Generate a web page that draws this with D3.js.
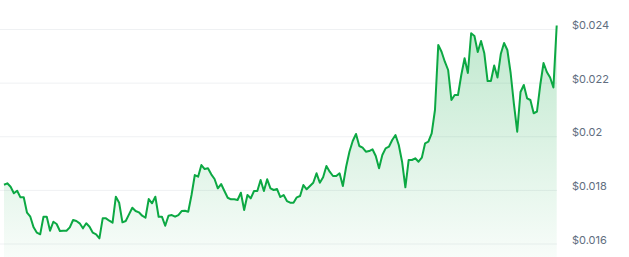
<!DOCTYPE html>
<html>
<head>
<meta charset="utf-8">
<script src="https://cdn.jsdelivr.net/npm/d3@7"></script>
<style>
  html, body { margin: 0; padding: 0; background: #fff; }
  svg { display: block; }
</style>
</head>
<body>
<div id="chart"></div>
<script>
// price series, one value per step (USD)
const prices = [
  0.018192, 0.018245, 0.018118, 0.017872, 0.017969, 0.017722, 0.017722, 0.017148, 0.016999, 0.016603,
  0.016402, 0.016342, 0.016999, 0.016999, 0.016477, 0.016812, 0.016726, 0.016465, 0.016477, 0.016477,
  0.016603, 0.016876, 0.016838, 0.016753, 0.016566, 0.016753, 0.016626, 0.016402, 0.016342, 0.016193,
  0.016939, 0.016939, 0.016850, 0.016775, 0.017745, 0.017521, 0.016790, 0.016838, 0.017088, 0.017334,
  0.017211, 0.017163, 0.017036, 0.016961, 0.017659, 0.017499, 0.017745, 0.016999, 0.016999, 0.016663,
  0.017036, 0.017062, 0.016999, 0.017062, 0.017211, 0.017223, 0.017185, 0.017808, 0.018554, 0.018491,
  0.018927, 0.018778, 0.018804, 0.018580, 0.018405, 0.018058, 0.018218, 0.017957, 0.017707, 0.017648,
  0.017648, 0.017622, 0.017894, 0.017249, 0.017808, 0.017685, 0.017957, 0.017957, 0.018368, 0.017957,
  0.018394, 0.018058, 0.017995, 0.018032, 0.017734, 0.017808, 0.017584, 0.017521, 0.017521, 0.017722,
  0.017771, 0.018181, 0.018021, 0.018144, 0.018267, 0.018618, 0.018267, 0.018468, 0.018890, 0.018677,
  0.018517, 0.018517, 0.018618, 0.018144, 0.018864, 0.019423, 0.019822, 0.020083, 0.019636, 0.019572,
  0.019423, 0.019449, 0.019513, 0.019263, 0.018804, 0.019300, 0.019550, 0.019610, 0.019860, 0.020046,
  0.019673, 0.019050, 0.018095, 0.019114, 0.019114, 0.019177, 0.019050, 0.019199, 0.019737, 0.019796,
  0.020110, 0.020979, 0.023403, 0.023153, 0.022780, 0.022471, 0.021352, 0.021538, 0.021538, 0.022284,
  0.022907, 0.022359, 0.023840, 0.023739, 0.023142, 0.023552, 0.023094, 0.022060, 0.022060, 0.022639,
  0.022191, 0.023067, 0.023478, 0.023217, 0.022359, 0.021202, 0.020169, 0.021650, 0.021911, 0.021415,
  0.021352, 0.020856, 0.020923, 0.021911, 0.022732, 0.022396, 0.022191, 0.021818, 0.024131
];
const yTicks = [0.016, 0.018, 0.02, 0.022, 0.024];
const tickLabels = ["$0.016", "$0.018", "$0.02", "$0.022", "$0.024"];

const width = 629;
const height = 257;
const lineColor = "#0ca843";

const x = d3.scaleLinear()
  .domain([0, prices.length - 1])
  .range([4, 556.7]);
const y = d3.scaleLinear()
  .domain([0.016, 0.024])
  .range([243.5, 29]);

const svg = d3.select("#chart").append("svg")
  .attr("width", width)
  .attr("height", height);

const defs = svg.append("defs");
const grad = defs.append("linearGradient")
  .attr("id", "fillGrad")
  .attr("gradientUnits", "userSpaceOnUse")
  .attr("x1", 0).attr("x2", 0)
  .attr("y1", y(0.024))
  .attr("y2", height);
grad.append("stop").attr("offset", "0%").attr("stop-color", lineColor).attr("stop-opacity", 0.26);
grad.append("stop").attr("offset", "100%").attr("stop-color", lineColor).attr("stop-opacity", 0.03);

// grid + right axis labels
const yAxis = g => g
  .attr("transform", `translate(557,0)`)
  .call(d3.axisRight(y).tickValues(yTicks).tickSize(0).tickPadding(15)
    .tickFormat((d, i) => tickLabels[i]))
  .call(g => g.select(".domain").remove())
  .call(g => g.selectAll(".tick text")
    .attr("y", -4)
    .attr("fill", "#616e80")
    .attr("font-family", "Inter, 'Noto Sans', sans-serif")
    .attr("font-size", 11))
  .call(g => g.selectAll(".tick line").clone()
    .attr("x1", -557)
    .attr("x2", 0)
    .attr("stroke", "#eff1f3")
    .attr("stroke-width", 1));

svg.append("g").call(yAxis);

const area = d3.area()
  .x((d, i) => x(i))
  .y0(height)
  .y1(d => y(d));

const line = d3.line()
  .x((d, i) => x(i))
  .y(d => y(d));

svg.append("path")
  .datum(prices)
  .attr("fill", "url(#fillGrad)")
  .attr("d", area);

svg.append("path")
  .datum(prices)
  .attr("fill", "none")
  .attr("stroke", lineColor)
  .attr("stroke-width", 2)
  .attr("stroke-linejoin", "round")
  .attr("d", line);
</script>
</body>
</html>
